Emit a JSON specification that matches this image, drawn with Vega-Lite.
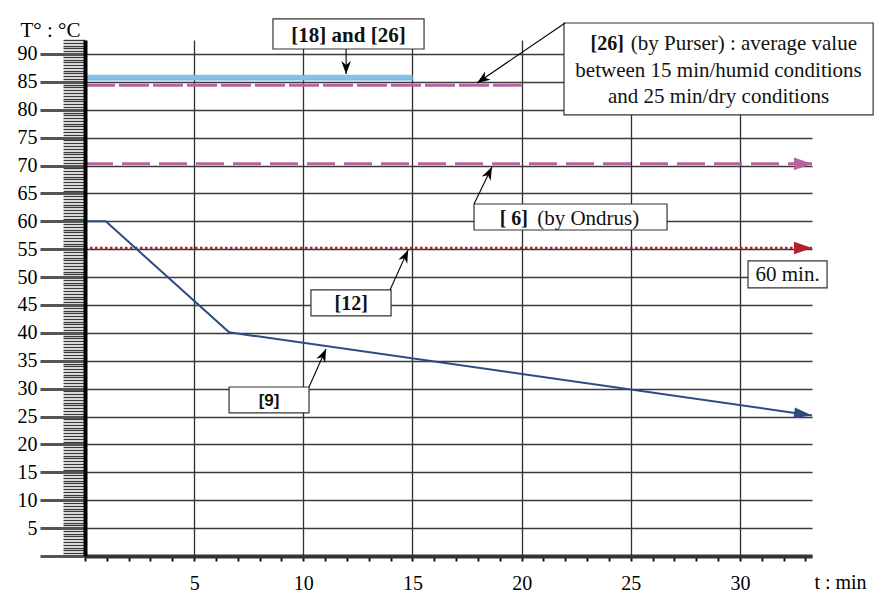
{
  "$schema": "https://vega.github.io/schema/vega-lite/v6.json",
  "width": 727,
  "height": 516,
  "autosize": "none",
  "padding": {"left": 85, "top": 40, "right": 62, "bottom": 37},
  "background": "white",
  "config": {"view": {"stroke": null}, "font": "Liberation Serif"},
  "datasets": {
    "band": [{"x": 0, "x2": 15, "y": 85.3, "y2": 86.2}],
    "series": [
      {"s": "p85", "x": 0, "y": 84.4}, {"s": "p85", "x": 20, "y": 84.4},
      {"s": "p70", "x": 0, "y": 70.3}, {"s": "p70", "x": 33.3, "y": 70.3},
      {"s": "r55", "x": 0, "y": 55.2}, {"s": "r55", "x": 33.3, "y": 55.2},
      {"s": "b9", "x": 0, "y": 60}, {"s": "b9", "x": 0.95, "y": 60}, {"s": "b9", "x": 6.6, "y": 40.1}, {"s": "b9", "x": 33.3, "y": 25.2}
    ],
    "boxes": [
      {"id": "b1", "x": 8.61, "x2": 15.53, "y": 96.27, "y2": 90.89},
      {"id": "b26", "x": 21.94, "x2": 36.1, "y": 95.55, "y2": 79.06},
      {"id": "b6", "x": 17.82, "x2": 26.66, "y": 63.1, "y2": 58.44},
      {"id": "b60", "x": 30.37, "x2": 33.99, "y": 52.89, "y2": 48.05},
      {"id": "b12", "x": 10.35, "x2": 14.02, "y": 47.69, "y2": 43.03},
      {"id": "b9", "x": 6.6, "x2": 10.26, "y": 30.3, "y2": 25.64}
    ],
    "arrows": [
      {"id": "a1", "x": 11.96, "y": 90.89, "tip": false}, {"id": "a1", "x": 11.96, "y": 86.4, "tip": true},
      {"id": "a26", "x": 21.99, "y": 95.55, "tip": false}, {"id": "a26", "x": 17.96, "y": 84.8, "tip": true},
      {"id": "a6", "x": 17.82, "y": 63.1, "tip": false}, {"id": "a6", "x": 18.64, "y": 69.74, "tip": true},
      {"id": "a12", "x": 13.97, "y": 47.69, "tip": false}, {"id": "a12", "x": 14.8, "y": 54.86, "tip": true},
      {"id": "a9", "x": 10.26, "y": 30.3, "tip": false}, {"id": "a9", "x": 11.04, "y": 37.11, "tip": true}
    ],
    "labels": [
      {"g": "boldc", "t": "[18] and [26]", "x": 12.07, "y": 93.3},
      {"g": "boldr", "t": "[26]", "x": 24.68, "y": 91.79},
      {"g": "boldr", "t": "[ 6]", "x": 20.29, "y": 60.42},
      {"g": "boldc2", "t": "[12]", "x": 12.19, "y": 45.18},
      {"g": "regl", "t": "(by Purser) : average value", "x": 25.0, "y": 91.79},
      {"g": "regl", "t": "(by Ondrus)", "x": 20.71, "y": 60.42},
      {"g": "regc", "t": "between 15 min/humid conditions", "x": 29.02, "y": 86.95},
      {"g": "regc", "t": "and 25 min/dry conditions", "x": 29.02, "y": 82.29},
      {"g": "regc", "t": "60 min.", "x": 32.18, "y": 50.38},
      {"g": "sans", "t": "[9]", "x": 8.43, "y": 27.7}
    ]
  },
  "resolve": {"axis": {"x": "independent", "y": "independent"}},
  "layer": [
    {
      "data": {"name": "band"},
      "mark": {"type": "rect", "fill": "#86bfe9", "stroke": "#5fa6dc", "strokeWidth": 0.5, "clip": false},
      "encoding": {
        "x": {"field": "x", "type": "quantitative", "scale": {"domain": [0, 33.3], "nice": false, "zero": false},
          "axis": {"orient": "bottom", "values": [5, 10, 15, 20, 25, 30], "grid": true, "gridColor": "#2e2e2e", "gridWidth": 1.3, "domain": false, "ticks": false, "labels": false, "title": null}},
        "x2": {"field": "x2"},
        "y": {"field": "y", "type": "quantitative", "scale": {"domain": [0, 92.5], "nice": false, "zero": false},
          "axis": {"orient": "left", "values": [0, 5, 10, 15, 20, 25, 30, 35, 40, 45, 50, 55, 60, 65, 70, 75, 80, 85, 90], "grid": true, "gridColor": "#3a3a3a", "gridWidth": 1.3, "domain": false, "ticks": false, "labels": false, "title": null}},
        "y2": {"field": "y2"}
      }
    },
    {
      "encoding": {
        "x": {"field": "x", "type": "quantitative", "scale": {"domain": [0, 33.3], "nice": false, "zero": false},
          "axis": {"orient": "bottom", "zindex": 1, "values": [0, 1, 2, 3, 4, 5, 6, 7, 8, 9, 10, 11, 12, 13, 14, 15, 16, 17, 18, 19, 20, 21, 22, 23, 24, 25, 26, 27, 28, 29, 30, 31, 32, 33],
            "labelExpr": "datum.value > 0 && datum.value % 5 == 0 ? datum.label : ''",
            "labelOverlap": false, "labelBound": false, "labelFlush": false, "grid": false,
            "domainColor": "#333333", "domainWidth": 4, "tickColor": "#111111", "tickWidth": 2, "tickSize": 5,
            "labelFont": "Liberation Serif", "labelFontSize": 20, "labelColor": "black", "labelPadding": 12,
            "title": "t : min", "titleFont": "Liberation Serif", "titleFontSize": 20, "titleFontWeight": "normal", "titleColor": "black",
            "titleX": 755, "titleY": 26, "titleAlign": "center", "titleBaseline": "middle", "titleAnchor": null}},
        "y": {"field": "y", "type": "quantitative", "scale": {"domain": [0, 92.5], "nice": false, "zero": false},
          "axis": {"orient": "left", "zindex": 1, "values": [0, 5, 10, 15, 20, 25, 30, 35, 40, 45, 50, 55, 60, 65, 70, 75, 80, 85, 90],
            "labelExpr": "datum.value == 0 ? '' : datum.label",
            "labelOverlap": false, "labelBound": false, "labelFlush": false, "grid": false,
            "domainColor": "black", "domainWidth": 4, "tickColor": "#555555", "tickWidth": 3, "tickSize": 45,
            "labelFont": "Liberation Serif", "labelFontSize": 20, "labelColor": "black", "labelPadding": 3,
            "title": "T° : °C", "titleFont": "Liberation Serif", "titleFontSize": 21, "titleFontWeight": "normal", "titleColor": "black",
            "titleAngle": 0, "titleX": -35, "titleY": -10, "titleAlign": "center", "titleBaseline": "middle", "titleAnchor": null}}
      },
      "layer": [
        {
          "data": {"name": "series"},
          "transform": [{"filter": "datum.s == 'p85'"}],
          "mark": {"type": "line", "color": "#b8639f", "strokeWidth": 3, "strokeDash": [30, 4], "clip": false}
        },
        {
          "data": {"name": "series"},
          "transform": [{"filter": "datum.s == 'p70'"}],
          "mark": {"type": "line", "color": "#b8639f", "strokeWidth": 3, "strokeDash": [28, 9], "clip": false}
        },
        {
          "data": {"name": "series"},
          "transform": [{"filter": "datum.s == 'r55'"}],
          "mark": {"type": "line", "color": "#b3202f", "strokeWidth": 2.5, "strokeDash": [2.5, 2.5], "clip": false}
        },
        {
          "data": {"name": "series"},
          "transform": [{"filter": "datum.s == 'b9'"}],
          "mark": {"type": "line", "color": "#2d4b82", "strokeWidth": 2, "clip": false}
        },
        {
          "data": {"name": "series"},
          "transform": [{"filter": "datum.s == 'p70' && datum.x > 30"}],
          "mark": {"type": "point", "shape": "M0,0L-2,-0.7L-2,0.7Z", "size": 324, "filled": true, "fill": "#b8639f", "strokeWidth": 0, "opacity": 1, "clip": false}
        },
        {
          "data": {"name": "series"},
          "transform": [{"filter": "datum.s == 'r55' && datum.x > 30"}],
          "mark": {"type": "point", "shape": "M0,0L-2,-0.7L-2,0.7Z", "size": 324, "filled": true, "fill": "#b3202f", "strokeWidth": 0, "opacity": 1, "clip": false}
        },
        {
          "data": {"name": "series"},
          "transform": [{"filter": "datum.s == 'b9' && datum.x > 30"}],
          "mark": {"type": "point", "shape": "M0,0L-2,-0.6L-2,0.6Z", "size": 324, "angle": 8.1, "filled": true, "fill": "#2d4b82", "strokeWidth": 0, "opacity": 1, "clip": false}
        },
        {
          "data": {"name": "boxes"},
          "mark": {"type": "rect", "fill": "white", "stroke": "#333333", "strokeWidth": 1.2, "clip": false},
          "encoding": {"x2": {"field": "x2"}, "y2": {"field": "y2"}}
        },
        {
          "data": {"name": "arrows"},
          "mark": {"type": "line", "color": "black", "strokeWidth": 1.1, "clip": false},
          "encoding": {"detail": {"field": "id"}}
        },
        {
          "data": {"name": "arrows"},
          "transform": [{"filter": "datum.id == 'a1' && datum.tip"}],
          "mark": {"type": "point", "shape": "M0,0L-2,-0.75L-1.4,0L-2,0.75Z", "size": 169, "angle": 90, "filled": true, "fill": "black", "strokeWidth": 0, "opacity": 1, "clip": false}
        },
        {
          "data": {"name": "arrows"},
          "transform": [{"filter": "datum.id == 'a26' && datum.tip"}],
          "mark": {"type": "point", "shape": "M0,0L-2,-0.75L-1.4,0L-2,0.75Z", "size": 169, "angle": 145.7, "filled": true, "fill": "black", "strokeWidth": 0, "opacity": 1, "clip": false}
        },
        {
          "data": {"name": "arrows"},
          "transform": [{"filter": "datum.id == 'a6' && datum.tip"}],
          "mark": {"type": "point", "shape": "M0,0L-2,-0.75L-1.4,0L-2,0.75Z", "size": 169, "angle": -64.1, "filled": true, "fill": "black", "strokeWidth": 0, "opacity": 1, "clip": false}
        },
        {
          "data": {"name": "arrows"},
          "transform": [{"filter": "datum.id == 'a12' && datum.tip"}],
          "mark": {"type": "point", "shape": "M0,0L-2,-0.75L-1.4,0L-2,0.75Z", "size": 169, "angle": -65.8, "filled": true, "fill": "black", "strokeWidth": 0, "opacity": 1, "clip": false}
        },
        {
          "data": {"name": "arrows"},
          "transform": [{"filter": "datum.id == 'a9' && datum.tip"}],
          "mark": {"type": "point", "shape": "M0,0L-2,-0.75L-1.4,0L-2,0.75Z", "size": 169, "angle": -65.9, "filled": true, "fill": "black", "strokeWidth": 0, "opacity": 1, "clip": false}
        },
        {
          "data": {"name": "labels"},
          "transform": [{"filter": "datum.g == 'boldc'"}],
          "mark": {"type": "text", "font": "Liberation Serif", "fontWeight": "bold", "fontSize": 21, "align": "center", "baseline": "middle", "color": "#111111", "clip": false},
          "encoding": {"text": {"field": "t"}}
        },
        {
          "data": {"name": "labels"},
          "transform": [{"filter": "datum.g == 'boldc2'"}],
          "mark": {"type": "text", "font": "Liberation Serif", "fontWeight": "bold", "fontSize": 20, "align": "center", "baseline": "middle", "color": "#111111", "clip": false},
          "encoding": {"text": {"field": "t"}}
        },
        {
          "data": {"name": "labels"},
          "transform": [{"filter": "datum.g == 'boldr'"}],
          "mark": {"type": "text", "font": "Liberation Serif", "fontWeight": "bold", "fontSize": 20, "align": "right", "baseline": "middle", "color": "#111111", "clip": false},
          "encoding": {"text": {"field": "t"}}
        },
        {
          "data": {"name": "labels"},
          "transform": [{"filter": "datum.g == 'regl'"}],
          "mark": {"type": "text", "font": "Liberation Serif", "fontSize": 21, "align": "left", "baseline": "middle", "color": "#111111", "clip": false},
          "encoding": {"text": {"field": "t"}}
        },
        {
          "data": {"name": "labels"},
          "transform": [{"filter": "datum.g == 'regc'"}],
          "mark": {"type": "text", "font": "Liberation Serif", "fontSize": 21, "align": "center", "baseline": "middle", "color": "#111111", "clip": false},
          "encoding": {"text": {"field": "t"}}
        },
        {
          "data": {"name": "labels"},
          "transform": [{"filter": "datum.g == 'sans'"}],
          "mark": {"type": "text", "font": "Liberation Sans", "fontWeight": "bold", "fontSize": 17, "align": "center", "baseline": "middle", "color": "#111111", "clip": false},
          "encoding": {"text": {"field": "t"}}
        }
      ]
    },
    {
      "data": {"name": "band"},
      "mark": {"type": "point", "opacity": 0, "clip": false},
      "encoding": {
        "x": {"field": "x", "type": "quantitative", "scale": {"domain": [0, 33.3], "nice": false, "zero": false}, "axis": null},
        "y": {"field": "y", "type": "quantitative", "scale": {"domain": [0, 92.5], "nice": false, "zero": false},
          "axis": {"orient": "left", "tickCount": 185, "labels": false, "domain": false, "grid": false, "ticks": true, "tickSize": 22, "tickColor": "#3a3a3a", "tickWidth": 1.4, "title": null}}
      }
    }
  ]
}
